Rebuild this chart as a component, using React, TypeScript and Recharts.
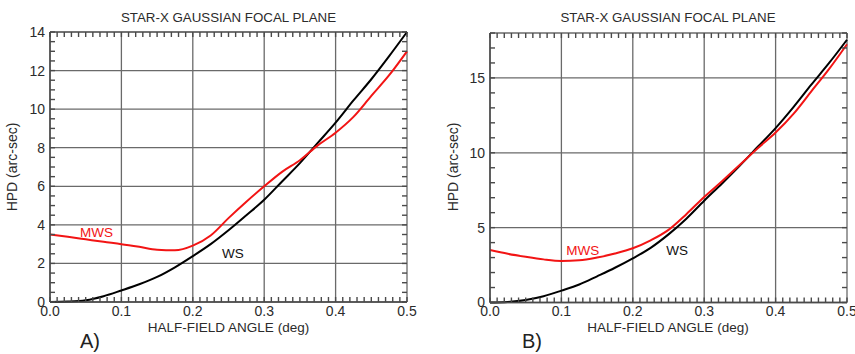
import React from 'react';
import { LineChart, Line, XAxis, YAxis, CartesianGrid, ReferenceDot } from 'recharts';

// Half-field angle samples (deg)
const angle = [0, 0.025, 0.05, 0.075, 0.1, 0.125, 0.15, 0.175, 0.2, 0.225, 0.25, 0.275, 0.3, 0.325, 0.35, 0.375, 0.4, 0.425, 0.45, 0.475, 0.5];

// Panel A: HPD (arc-sec)
const wsA = [0, 0.02, 0.09, 0.3, 0.6, 0.92, 1.3, 1.8, 2.38, 3.0, 3.72, 4.5, 5.3, 6.25, 7.2, 8.25, 9.3, 10.45, 11.55, 12.75, 14.0];
const mwsA = [3.5, 3.38, 3.25, 3.12, 3.0, 2.86, 2.71, 2.68, 2.92, 3.45, 4.35, 5.2, 6.0, 6.75, 7.35, 8.12, 8.78, 9.6, 10.69, 11.76, 13.0];

// Panel B: HPD (arc-sec)
const wsB = [0, 0.04, 0.17, 0.42, 0.79, 1.2, 1.75, 2.32, 2.95, 3.65, 4.55, 5.6, 6.8, 7.95, 9.15, 10.4, 11.65, 13.05, 14.55, 16.0, 17.55];
const mwsB = [3.5, 3.25, 3.05, 2.88, 2.78, 2.82, 3.0, 3.27, 3.62, 4.15, 4.85, 5.9, 7.05, 8.1, 9.2, 10.3, 11.35, 12.6, 14.1, 15.6, 17.25];

const xTicks = [0, 0.1, 0.2, 0.3, 0.4, 0.5];
const yTicksA = [0, 2, 4, 6, 8, 10, 12, 14];
const yTicksB = [0, 5, 10, 15];

const title = 'STAR-X GAUSSIAN FOCAL PLANE';
const xTitle = 'HALF-FIELD ANGLE (deg)';
const yTitle = 'HPD (arc-sec)';

// Minor tick positions along the frame
const minorX = Array.from({ length: 51 }, (_, i) => i / 100);
const minorYA = Array.from({ length: 29 }, (_, i) => i * 0.5);
const minorYB = Array.from({ length: 19 }, (_, i) => i);

const FONT = '"Liberation Sans", Arial, Helvetica, sans-serif';
const FRAME = '#4a4a4a';
const GRID = '#6a6a6a';
const TEXT = '#2b2b2b';
const RED = '#f21414';
const X_MAX = 0.5;
const HEIGHT = 354;
const X_AXIS_H = 30;
const Y_AXIS_W = 40;
const X_GAP = 4;
const Y_GAP = 5;
const MINOR = 5;

const isMajor = (v: number, majors: number[]) => majors.some((m) => Math.abs(m - v) < 1e-9);

type PanelProps = {
  ws: number[];
  mws: number[];
  yMax: number;
  yTicks: number[];
  minorY: number[];
  width: number;
  margin: { top: number; right: number; bottom: number; left: number };
  mwsLabel: { x: number; y: number };
  wsLabel: { x: number; y: number };
};

function Panel({ ws, mws, yMax, yTicks, minorY, width, margin, mwsLabel, wsLabel }: PanelProps) {
  const data = angle.map((a, i) => ({ angle: a, ws: ws[i], mws: mws[i] }));
  const plotTop = margin.top;
  const plotRight = width - margin.right;

  // Bottom tick: inward minor marks on bottom and top edges, label for major values
  const xTick = (props: any) => {
    const { x, y, payload } = props;
    const v = payload.value as number;
    const bottom = y - X_GAP;
    return (
      <g>
        <line x1={x} x2={x} y1={bottom} y2={bottom - MINOR} stroke={FRAME} strokeWidth={1.4} />
        <line x1={x} x2={x} y1={plotTop} y2={plotTop + MINOR} stroke={FRAME} strokeWidth={1.4} />
        {isMajor(v, xTicks) && (
          <text x={x} y={y} dy="0.71em" textAnchor="middle" fontSize={14} fill={TEXT} fontFamily={FONT}>
            {v.toFixed(1)}
          </text>
        )}
      </g>
    );
  };

  // Left tick: inward minor marks on left and right edges, label for major values
  const yTick = (props: any) => {
    const { x, y, payload } = props;
    const v = payload.value as number;
    const left = x + Y_GAP;
    return (
      <g>
        <line x1={left} x2={left + MINOR} y1={y} y2={y} stroke={FRAME} strokeWidth={1.4} />
        <line x1={plotRight - MINOR} x2={plotRight} y1={y} y2={y} stroke={FRAME} strokeWidth={1.4} />
        {isMajor(v, yTicks) && (
          <text x={x} y={y} dy="0.355em" textAnchor="end" fontSize={14} fill={TEXT} fontFamily={FONT}>
            {String(v)}
          </text>
        )}
      </g>
    );
  };

  return (
    <LineChart width={width} height={HEIGHT} data={data} margin={margin} style={{ fontFamily: FONT }}>
      <CartesianGrid stroke={GRID} strokeWidth={1.3} verticalValues={xTicks} horizontalValues={[...yTicks, yMax]} />
      <XAxis
        dataKey="angle"
        type="number"
        domain={[0, X_MAX]}
        ticks={minorX}
        interval={0}
        height={X_AXIS_H}
        tickSize={0}
        tickMargin={X_GAP}
        tickLine={false}
        tick={xTick}
        axisLine={{ stroke: FRAME, strokeWidth: 1.5 }}
      />
      <YAxis
        type="number"
        domain={[0, yMax]}
        ticks={minorY}
        interval={0}
        width={Y_AXIS_W}
        tickSize={0}
        tickMargin={Y_GAP}
        tickLine={false}
        tick={yTick}
        axisLine={{ stroke: FRAME, strokeWidth: 1.5 }}
      />
      <Line type="monotone" dataKey="ws" stroke="#000" strokeWidth={2} dot={false} isAnimationActive={false} />
      <Line type="monotone" dataKey="mws" stroke={RED} strokeWidth={2} dot={false} isAnimationActive={false} />
      <ReferenceDot
        x={mwsLabel.x}
        y={mwsLabel.y}
        r={0}
        fill="none"
        stroke="none"
        label={{ value: 'MWS', position: 'center', fill: RED, fontSize: 13.5, fontFamily: FONT }}
      />
      <ReferenceDot
        x={wsLabel.x}
        y={wsLabel.y}
        r={0}
        fill="none"
        stroke="none"
        label={{ value: 'WS', position: 'center', fill: '#111', fontSize: 13.5, fontFamily: FONT }}
      />
    </LineChart>
  );
}

export default function App() {
  return (
    <div style={{ position: 'absolute', left: 0, top: 0, width: 855, height: HEIGHT, background: '#fff', overflow: 'hidden' }}>
      <div style={{ position: 'absolute', left: 0, top: 0 }}>
        <Panel
          ws={wsA}
          mws={mwsA}
          yMax={14}
          yTicks={yTicksA}
          minorY={minorYA}
          width={430}
          margin={{ top: 32, right: 23, bottom: 22, left: 10 }}
          mwsLabel={{ x: 0.065, y: 3.63 }}
          wsLabel={{ x: 0.256, y: 2.54 }}
        />
      </div>
      <div style={{ position: 'absolute', left: 430, top: 0 }}>
        <Panel
          ws={wsB}
          mws={mwsB}
          yMax={18}
          yTicks={yTicksB}
          minorY={minorYB}
          width={425}
          margin={{ top: 33, right: 8, bottom: 21.5, left: 20 }}
          mwsLabel={{ x: 0.13, y: 3.47 }}
          wsLabel={{ x: 0.262, y: 3.47 }}
        />
      </div>
      <svg
        width={855}
        height={HEIGHT}
        style={{ position: 'absolute', left: 0, top: 0, pointerEvents: 'none' }}
        fontFamily={FONT}
      >
        <text x={228.5} y={21.5} textAnchor="middle" fontSize={13.3} fill={TEXT}>{title}</text>
        <text x={668} y={21.5} textAnchor="middle" fontSize={13.3} fill={TEXT}>{title}</text>
        <text x={228.5} y={332} textAnchor="middle" fontSize={13.5} fill={TEXT}>{xTitle}</text>
        <text x={668} y={332} textAnchor="middle" fontSize={13.5} fill={TEXT}>{xTitle}</text>
        <text x={0} y={0} transform="translate(17 167) rotate(-90)" textAnchor="middle" fontSize={14} fill={TEXT}>{yTitle}</text>
        <text x={0} y={0} transform="translate(458 167) rotate(-90)" textAnchor="middle" fontSize={14} fill={TEXT}>{yTitle}</text>
        <text x={80} y={348} fontSize={20} fill="#222">A)</text>
        <text x={522} y={348} fontSize={20} fill="#222">B)</text>
      </svg>
    </div>
  );
}
